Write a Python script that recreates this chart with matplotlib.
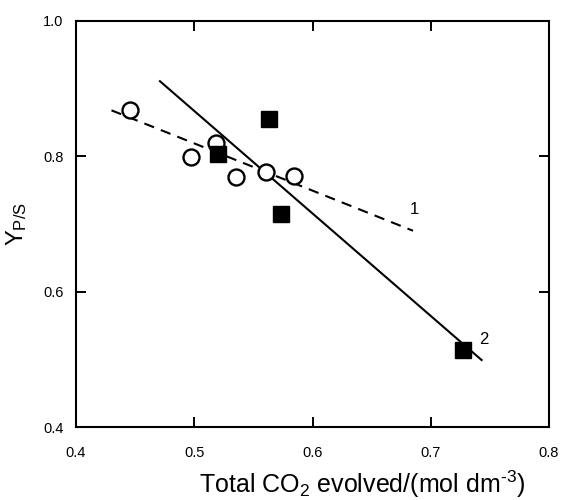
import matplotlib
matplotlib.use("Agg")
import matplotlib.pyplot as plt

# series 1: open circles, dashed fit
co2_1 = [0.446, 0.497, 0.518, 0.535, 0.561, 0.584]
yps_1 = [0.868, 0.799, 0.820, 0.769, 0.777, 0.771]
fit1_x = [0.430, 0.685]
fit1_y = [0.868, 0.690]

# series 2: filled squares, solid fit
co2_2 = [0.520, 0.563, 0.573, 0.727]
yps_2 = [0.803, 0.855, 0.715, 0.514]
fit2_x = [0.471, 0.743]
fit2_y = [0.911, 0.499]

xticks = [0.4, 0.5, 0.6, 0.7, 0.8]
yticks = [0.4, 0.6, 0.8, 1.0]

plt.rcParams["font.family"] = ["Liberation Sans", "DejaVu Sans"]
plt.rcParams["mathtext.fontset"] = "custom"
plt.rcParams["mathtext.rm"] = "Liberation Sans"
plt.rcParams["mathtext.it"] = "Liberation Sans"

fig = plt.figure(figsize=(5.64, 5.0), dpi=100)
ax = fig.add_axes([76 / 564, 1 - 427 / 500, (549 - 76) / 564, (427 - 21) / 500])

ax.plot(fit1_x, fit1_y, "k--", lw=1.5, dashes=(5, 3.5))
ax.plot(fit2_x, fit2_y, "k-", lw=1.5)
ax.plot(co2_1, yps_1, "o", ms=11.5, mfc="white", mec="black", mew=1.7)
ax.plot(co2_2, yps_2, "s", ms=11.5, mfc="black", mec="black")

ax.text(0.682, 0.715, "1", fontsize=12)
ax.text(0.741, 0.523, "2", fontsize=12)

ax.set_xlim(0.4, 0.8)
ax.set_ylim(0.4, 1.0)
ax.set_xticks(xticks)
ax.set_yticks(yticks)
ax.set_xticklabels([f"{v:.1f}" for v in xticks])
ax.set_yticklabels([f"{v:.1f}" for v in yticks])
ax.tick_params(direction="in", length=7, width=1.4, top=True, right=True, labelsize=10.5)
ax.tick_params(axis="x", pad=14)
ax.tick_params(axis="y", pad=9)
for s in ax.spines.values():
    s.set_linewidth(1.5)

ax.set_xlabel("Total CO$_\\mathrm{2}$ evolved/(mol dm$^{\\mathrm{\u20103}}$)", fontsize=18, va="baseline")
ax.xaxis.set_label_coords(0.605, (427 - 493) / 406)
ax.set_ylabel(r"Y$_\mathrm{P/S}$", fontsize=17)
ax.yaxis.set_label_coords(-0.10, 0.5)

fig.savefig("out.png", dpi=100)
